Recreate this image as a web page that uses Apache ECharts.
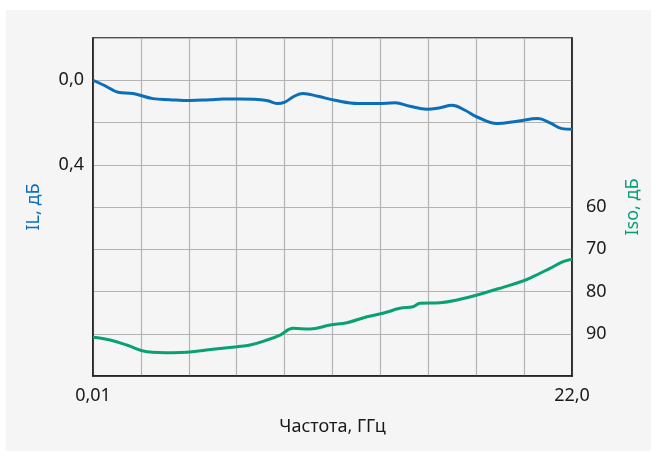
<!DOCTYPE html>
<html>
<head>
<meta charset="utf-8">
<script src="https://cdn.jsdelivr.net/npm/echarts@6/dist/echarts.min.js"></script>
<style>
  html, body { margin: 0; padding: 0; background: #ffffff; }
  #bg { position: absolute; left: 6px; top: 10px; width: 645px; height: 441px; background: #f5f5f5; }
  #chart { position: absolute; left: 0; top: 0; width: 657px; height: 457px; }
</style>
</head>
<body>
<div id="bg"></div>
<div id="chart"></div>
<script>
// Frequency, GHz and insertion loss IL, dB
const ilFreq = [0.01, 0.56, 1.16, 1.85, 2.76, 3.54, 4.46, 5.38, 5.98, 6.76, 7.58, 8.04, 8.46, 8.82, 9.24, 9.65, 10.34, 11.12, 12.18, 13.09, 13.87, 14.56, 15.34, 15.94, 16.49, 17.09, 17.64, 18.56, 19.48, 20.44, 20.99, 21.54, 22.0];
const ilValues = [0.0, 0.026, 0.057, 0.063, 0.087, 0.092, 0.096, 0.092, 0.089, 0.089, 0.091, 0.097, 0.110, 0.103, 0.076, 0.063, 0.076, 0.095, 0.110, 0.110, 0.107, 0.123, 0.137, 0.130, 0.118, 0.142, 0.174, 0.205, 0.194, 0.181, 0.202, 0.229, 0.232];
// Frequency, GHz and isolation Iso, dB
const isoFreq = [0.01, 0.79, 1.62, 2.49, 3.68, 4.33, 5.52, 6.62, 7.22, 8.0, 8.60, 9.19, 9.97, 10.89, 11.67, 12.59, 13.32, 14.10, 14.70, 15.02, 15.94, 16.86, 17.64, 18.83, 19.75, 20.21, 20.99, 21.59, 22.0];
const isoValues = [90.84, 91.48, 92.78, 94.25, 94.49, 94.39, 93.68, 93.07, 92.67, 91.48, 90.30, 88.71, 88.88, 87.93, 87.39, 85.97, 85.16, 83.98, 83.60, 82.79, 82.65, 81.85, 80.83, 79.01, 77.52, 76.50, 74.51, 72.95, 72.38];
// Tick labels shown
const xTickLabels = { '0.01': '0,01', '22': '22,0' };
const ilTickLabels = { '0': '0,0', '0.4': '0,4' };
const isoTickLabels = ['60', '70', '80', '90'];
const xTitle = 'Частота, ГГц';
const ilTitle = 'IL, дБ';
const isoTitle = 'Iso, дБ';

const FONT = 'Noto Sans';
const blue = '#0a6eb9';
const green = '#0aa073';

const chart = echarts.init(document.getElementById('chart'), null, { renderer: 'canvas' });
chart.setOption({
  backgroundColor: 'transparent',
  animation: false,
  textStyle: { fontFamily: FONT },
  grid: { left: 93, top: 38, right: 85, bottom: 81, show: true, borderColor: '#1a1a1a', borderWidth: 1.5, backgroundColor: 'transparent' },
  xAxis: {
    type: 'value', min: 0.01, max: 22.0, interval: 2.199,
    name: xTitle, nameLocation: 'middle', nameGap: 42,
    nameTextStyle: { fontFamily: FONT, fontSize: 18, color: '#1a1a1a' },
    axisLine: { show: true, onZero: false, lineStyle: { color: '#1a1a1a', width: 1.5 } },
    axisTick: { show: false },
    splitLine: { show: true, lineStyle: { color: '#b3b3b3', width: 1.2 } },
    axisLabel: {
      margin: 11, fontFamily: FONT, fontSize: 18, color: '#1a1a1a', showMinLabel: true, showMaxLabel: true,
      formatter: v => { const k = String(Math.round(v * 1000) / 1000); return xTickLabels[k] || ''; }
    }
  },
  yAxis: [
    {
      type: 'value', min: -0.2, max: 1.4, interval: 0.2, inverse: true, position: 'left',
      name: ilTitle, nameLocation: 'middle', nameGap: 50, nameRotate: 90,
      nameTextStyle: { fontFamily: FONT, fontSize: 18, color: blue },
      axisLine: { show: true, onZero: false, lineStyle: { color: '#1a1a1a', width: 1.5 } },
      axisTick: { show: false },
      splitLine: { show: true, lineStyle: { color: '#b3b3b3', width: 1.2 } },
      axisLabel: {
        margin: 9, fontFamily: FONT, fontSize: 18, color: '#1a1a1a',
        formatter: v => { const k = String(Math.round(v * 1000) / 1000); return ilTickLabels[k] || ''; }
      }
    },
    {
      type: 'value', min: 20, max: 100, interval: 10, inverse: true, position: 'right',
      name: isoTitle, nameLocation: 'middle', nameGap: 52, nameRotate: 90,
      nameTextStyle: { fontFamily: FONT, fontSize: 18, color: green },
      axisLine: { show: true, onZero: false, lineStyle: { color: '#1a1a1a', width: 1.5 } },
      axisTick: { show: false },
      splitLine: { show: false },
      axisLabel: {
        margin: 14, fontFamily: FONT, fontSize: 18, color: '#1a1a1a',
        formatter: v => isoTickLabels.includes(String(v)) ? String(v) : ''
      }
    }
  ],
  series: [
    {
      type: 'line', yAxisIndex: 0, smooth: 0.4, symbol: 'none',
      data: ilFreq.map((f, i) => [f, ilValues[i]]),
      lineStyle: { color: blue, width: 3 }
    },
    {
      type: 'line', yAxisIndex: 1, smooth: 0.4, symbol: 'none',
      data: isoFreq.map((f, i) => [f, isoValues[i]]),
      lineStyle: { color: green, width: 3 }
    }
  ]
});
</script>
</body>
</html>
